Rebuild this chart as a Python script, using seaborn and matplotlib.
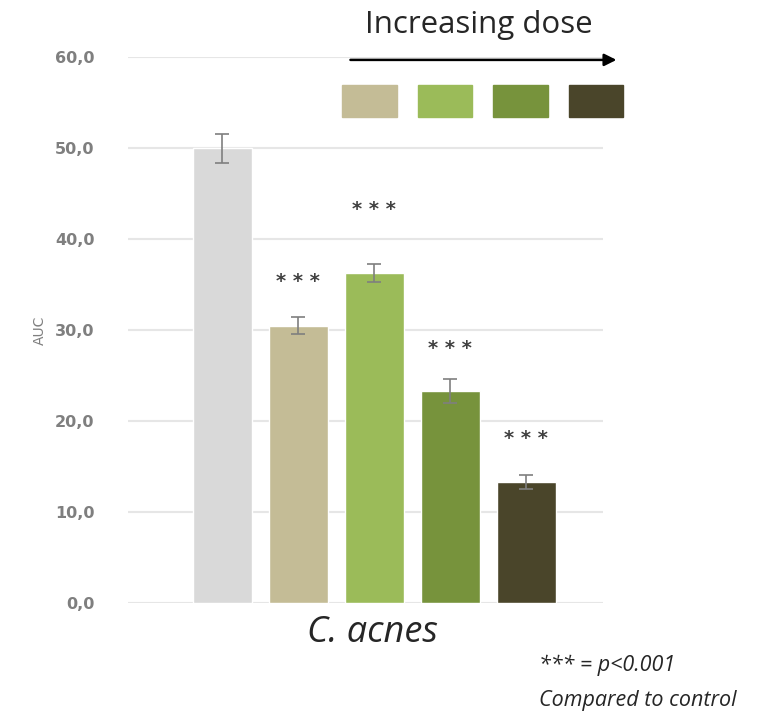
import pandas as pd
import numpy as np
import matplotlib
matplotlib.use("Agg")
import matplotlib.pyplot as plt
from matplotlib.patches import Rectangle
import seaborn as sns

# Datos
grupos = ["Control", "Dosis 1", "Dosis 2", "Dosis 3", "Dosis 4"]
auc = [50.0, 30.5, 36.3, 23.3, 13.3]
error = [1.6, 0.9, 1.0, 1.3, 0.8]
estrellas = ["", "***", "***", "***", "***"]
altura_estrellas = [0, 35.3, 43.2, 28.0, 18.1]
colores = ["#d9d9d9", "#c4bc96", "#9bbb59", "#77933c", "#4a452a"]
ticks_y = [0, 10, 20, 30, 40, 50, 60]

df = pd.DataFrame({"grupo": grupos, "auc": auc})

sns.set_style("white")
plt.rcParams["font.family"] = ["DejaVu Sans"]

fig = plt.figure(figsize=(7.76, 7.13), dpi=100)
ax = fig.add_axes([0.165, 0.154, 0.612, 0.766])

sns.barplot(x="grupo", y="auc", hue="grupo", data=df, palette=colores,
            width=0.78, saturation=1, legend=False, ax=ax, errorbar=None, zorder=2)
ax.errorbar(range(len(grupos)), auc, yerr=error, fmt="none",
            ecolor="#7f7f7f", elinewidth=1.2, capsize=5, capthick=1.2, zorder=3)

# Asteriscos de significancia
for i, (h, s) in enumerate(zip(altura_estrellas, estrellas)):
    if s:
        ax.text(i, h, " ".join(s), ha="center", va="center", fontsize=14,
                color="#404040", fontweight="bold")

ax.set_ylim(0, 60)
ax.set_xlim(-1.24, 5.01)
ax.set_yticks(ticks_y)
ax.set_yticklabels([f"{t:.1f}".replace(".", ",") for t in ticks_y],
                   color="#7f7f7f", fontsize=11.5, fontweight="bold")
ax.tick_params(axis="y", length=0, pad=24)
ax.set_xticks([])
ax.set_xlabel("")
ax.set_ylabel("AUC", color="#7f7f7f", fontsize=10, labelpad=6)
ax.yaxis.grid(True, color="#e6e6e6", linewidth=1.5, zorder=0)
ax.set_axisbelow(True)
sns.despine(ax=ax, left=True, bottom=True)

# Leyenda de dosis (cuadros de color + flecha)
for j, c in enumerate(colores[1:]):
    fig.patches.append(Rectangle((0.441 + j * 0.0973, 0.836), 0.0705, 0.045,
                                 transform=fig.transFigure, color=c))
fig.add_artist(matplotlib.patches.FancyArrowPatch(
    (0.448, 0.916), (0.798, 0.916), transform=fig.transFigure,
    arrowstyle="-|>", mutation_scale=18, color="black", linewidth=1.8))
fig.text(0.617, 0.965, "Increasing dose", ha="center", va="center",
         fontsize=22.5, family="Open Sans")

fig.text(0.48, 0.112, "C. acnes", ha="center", va="center", fontsize=26,
         style="italic", family="Open Sans")
fig.text(0.695, 0.067, "*** = p<0.001", ha="left", va="center", fontsize=15.5,
         style="italic", family="Open Sans")
fig.text(0.695, 0.018, "Compared to control", ha="left", va="center", fontsize=15.5,
         style="italic", family="Open Sans")

plt.savefig("out.png", dpi=100)
